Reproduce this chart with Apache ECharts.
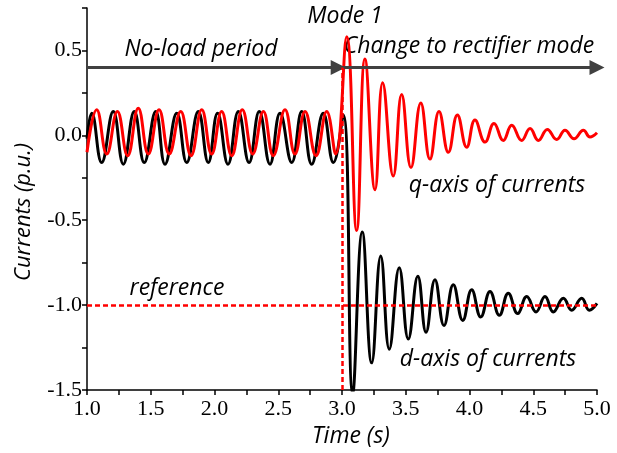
<!DOCTYPE html>
<html><head><meta charset="utf-8">
<script src="https://cdn.jsdelivr.net/npm/echarts@6/dist/echarts.min.js"></script>
<style>html,body{margin:0;padding:0;background:#fff}#c{width:617px;height:453px}</style>
</head><body><div id="c"></div>
<script>
// d-axis current (black): time (s) and value (p.u.) at peaks/troughs
const dTime = [1.000,1.037,1.115,1.206,1.285,1.371,1.449,1.539,1.612,1.704,1.782,1.873,1.951,2.024,2.106,2.187,2.271,2.351,2.435,2.514,2.606,2.684,2.762,2.853,2.932,3.010,3.084,3.159,3.233,3.304,3.371,3.449,3.520,3.595,3.659,3.729,3.800,3.873,3.947,4.017,4.088,4.161,4.234,4.304,4.378,4.449,4.522,4.592,4.657,4.736,4.802,4.880,4.940,5.000];
const dVal  = [-0.02,0.13,-0.16,0.14,-0.17,0.14,-0.16,0.14,-0.17,0.13,-0.16,0.14,-0.16,0.13,-0.17,0.14,-0.16,0.14,-0.17,0.13,-0.16,0.14,-0.17,0.13,-0.16,0.12,-1.52,-0.57,-1.34,-0.71,-1.26,-0.78,-1.20,-0.83,-1.16,-0.85,-1.12,-0.88,-1.09,-0.91,-1.07,-0.92,-1.06,-0.93,-1.05,-0.95,-1.04,-0.95,-1.04,-0.96,-1.03,-0.96,-1.03,-0.99];
// q-axis current (red)
const qTime = [1.000,1.076,1.155,1.238,1.319,1.402,1.481,1.565,1.645,1.735,1.816,1.900,1.978,2.056,2.135,2.218,2.300,2.383,2.461,2.553,2.631,2.710,2.796,2.880,2.950,3.037,3.115,3.180,3.259,3.319,3.402,3.468,3.541,3.618,3.690,3.761,3.834,3.905,3.978,4.043,4.122,4.192,4.265,4.331,4.409,4.475,4.540,4.610,4.684,4.749,4.820,4.893,4.945,5.000];
const qVal  = [-0.10,0.15,-0.11,0.14,-0.12,0.16,-0.11,0.15,-0.11,0.14,-0.12,0.15,-0.11,0.14,-0.12,0.15,-0.11,0.14,-0.12,0.15,-0.11,0.14,-0.12,0.14,-0.11,0.58,-0.56,0.45,-0.32,0.31,-0.24,0.24,-0.19,0.19,-0.14,0.14,-0.10,0.12,-0.07,0.09,-0.04,0.07,-0.03,0.06,-0.03,0.04,-0.03,0.035,-0.025,0.03,-0.02,0.03,-0.01,0.015];
// annotation values
const referenceLevel = -1.0;
const switchTime = 3.0;
const arrowLevel = 0.4;
const xTicksLabelled = [1.0,1.5,2.0,2.5,3.0,3.5,4.0,4.5,5.0];
const yTicksLabelled = [-1.5,-1.0,-0.5,0.0,0.5];

const zip = (a,b)=>a.map((t,i)=>[t,b[i]]);
const has = (arr,v)=>arr.some(x=>Math.abs(x-v)<1e-6);
const chart = echarts.init(document.getElementById('c'), null, {renderer:'canvas'});
const tickFont = {fontFamily:'Liberation Serif', fontSize:22, color:'#000'};
const annFont = 'italic 23px "Open Sans"';
const arrowStyle = {color:'#404040', width:3, type:'solid'};
chart.setOption({
  animation:false,
  backgroundColor:'#fff',
  grid:{left:87,right:20,top:8,bottom:63,containLabel:false},
  xAxis:{type:'value',min:1,max:5,interval:0.25,
    axisLine:{onZero:false,lineStyle:{color:'#000',width:1.5}},
    axisTick:{show:true,length:5,lineStyle:{color:'#000',width:1.5}},
    splitLine:{show:false},
    axisLabel:Object.assign({margin:8,formatter:v=>has(xTicksLabelled,v)?v.toFixed(1):''},tickFont)},
  yAxis:{type:'value',min:-1.5,max:0.75,interval:0.25,
    axisLine:{show:true,onZero:false,lineStyle:{color:'#000',width:1.5}},
    axisTick:{show:true,length:5,lineStyle:{color:'#000',width:1.5}},
    splitLine:{show:false},
    axisLabel:Object.assign({margin:5,formatter:v=>has(yTicksLabelled,v)?v.toFixed(1):''},tickFont)},
  series:[
    {type:'line',name:'d',data:zip(dTime,dVal),showSymbol:false,smooth:0.45,
     lineStyle:{color:'#000',width:3},itemStyle:{color:'#000'},z:2,
     markLine:{silent:true,animation:false,label:{show:false},symbol:['none','triangle'],symbolSize:[15,15],
       data:[
        [{coord:[1,arrowLevel],lineStyle:arrowStyle,itemStyle:{color:'#404040'}},{coord:[2.97,arrowLevel]}],
        [{coord:[switchTime,arrowLevel],lineStyle:arrowStyle,itemStyle:{color:'#404040'}},{coord:[5,arrowLevel]}]
       ]}},
    {type:'line',name:'q',data:zip(qTime,qVal),showSymbol:false,smooth:0.45,
     lineStyle:{color:'#ff0000',width:3},itemStyle:{color:'#ff0000'},z:3,
     markLine:{silent:true,animation:false,label:{show:false},symbol:['none','none'],
       lineStyle:{color:'#ff0000',width:2.5,type:[5,3]},
       data:[
        [{coord:[1,referenceLevel]},{coord:[5,referenceLevel]}],
        [{coord:[switchTime,-1.5]},{coord:[switchTime,arrowLevel]}]
       ]}}
  ],
  graphic:[
    {type:'text',x:345,y:16,style:{text:'Mode 1',font:annFont,fill:'#000',align:'center',verticalAlign:'middle'}},
    {type:'text',x:201,y:49,style:{text:'No-load period',font:annFont,fill:'#000',align:'center',verticalAlign:'middle'}},
    {type:'text',x:469,y:46,style:{text:'Change to rectifier mode',font:annFont,fill:'#000',align:'center',verticalAlign:'middle'}},
    {type:'text',x:497,y:185,style:{text:'q-axis of currents',font:annFont,fill:'#000',align:'center',verticalAlign:'middle'}},
    {type:'text',x:177,y:288,style:{text:'reference',font:annFont,fill:'#000',align:'center',verticalAlign:'middle'}},
    {type:'text',x:488,y:359,style:{text:'d-axis of currents',font:annFont,fill:'#000',align:'center',verticalAlign:'middle'}},
    {type:'text',x:24,y:212,rotation:Math.PI/2,style:{text:'Currents (p.u.)',font:'italic 22px "Open Sans"',fill:'#000',align:'center',verticalAlign:'middle'}},
    {type:'text',x:351,y:436,style:{text:'Time (s)',font:annFont,fill:'#000',align:'center',verticalAlign:'middle'}}
  ]
});
</script></body></html>
